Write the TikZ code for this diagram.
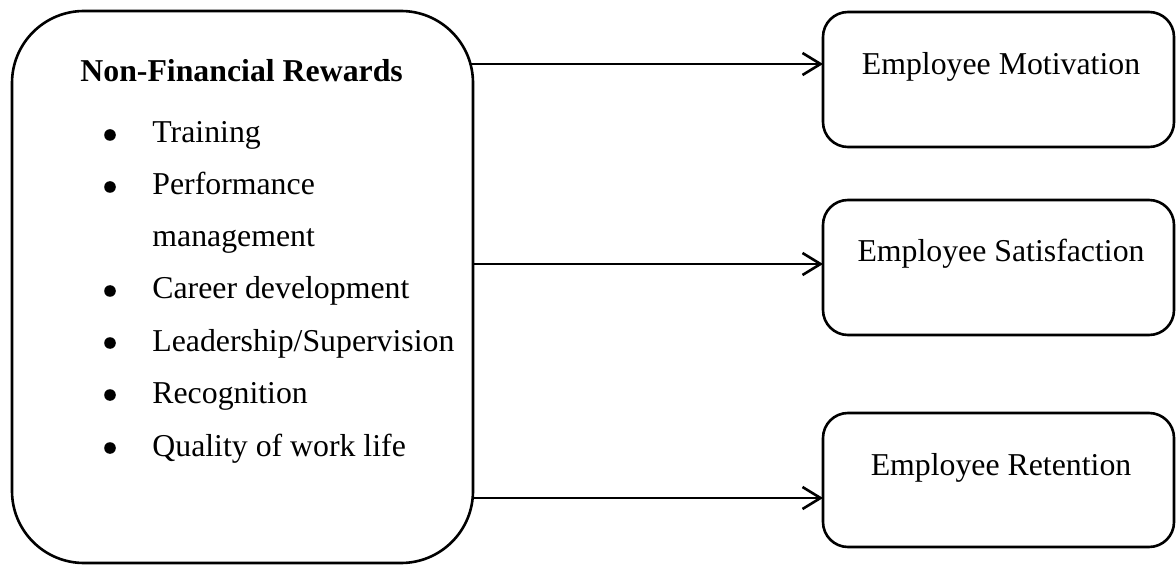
\documentclass[tikz,border=0pt]{standalone}
\usepackage{fontspec}
\setmainfont{Liberation Serif}
\usetikzlibrary{arrows.meta}
\begin{document}
\begin{tikzpicture}[x=0.5pt,y=-0.5pt,
  every node/.style={font=\fontsize{15.9}{19}\selectfont},
  bigbox/.style={draw, line width=1.3pt, rounded corners=36pt, inner sep=0pt, outer sep=0pt},
  smallbox/.style={draw, line width=1.3pt, rounded corners=12.5pt, inner sep=0pt, outer sep=0pt, minimum width=175.5pt},
  txt/.style={inner sep=0pt, anchor=base west},
  bul/.style={circle, fill, inner sep=0pt, minimum size=5.8pt},
  lbl/.style={inner sep=0pt, anchor=base},
  conn/.style={line width=1.3pt, -{Straight Barb[length=9pt,width=11pt,line width=1.3pt]}}
]
\useasboundingbox (0,0) rectangle (1176,566);
% left box
\node[bigbox, minimum width=230.5pt, minimum height=276pt] (L) at (242.5,287) {};
\node[txt, font=\fontsize{15.9}{19}\selectfont\bfseries] (title) at (80,82) {Non-Financial Rewards};
\node[bul] (b1) at (110,135) {};
\node[txt] (t1) at (152,143) {Training};
\node[bul] (b2) at (110,187) {};
\node[txt] (t2) at (152,195) {Performance};
\node[txt] (t2b) at (152,247) {management};
\node[bul] (b3) at (110,291) {};
\node[txt] (t3) at (152,299) {Career development};
\node[bul] (b4) at (110,343) {};
\node[txt] (t4) at (152,351) {Leadership/Supervision};
\node[bul] (b5) at (110,395) {};
\node[txt] (t5) at (152,403) {Recognition};
\node[bul] (b6) at (110,448) {};
\node[txt] (t6) at (152,456) {Quality of work life};
% right boxes
\node[smallbox, minimum height=67.5pt] (M) at (998.5,79.5) {};
\node[lbl] (Mt) at (1001,75) {Employee Motivation};
\node[smallbox, minimum height=67.5pt] (S) at (998.5,267.5) {};
\node[lbl] (St) at (1001,262) {Employee Satisfaction};
\node[smallbox, minimum height=67pt] (R) at (998.5,480) {};
\node[lbl] (Rt) at (1001,475) {Employee Retention};
% connectors
\coordinate (a1) at (471,64);
\coordinate (a2) at (473,264);
\coordinate (a3) at (473,498);
\draw[conn] (a1) -- (M.west |- a1);
\draw[conn] (a2) -- (S.west |- a2);
\draw[conn] (a3) -- (R.west |- a3);
\end{tikzpicture}
\end{document}
